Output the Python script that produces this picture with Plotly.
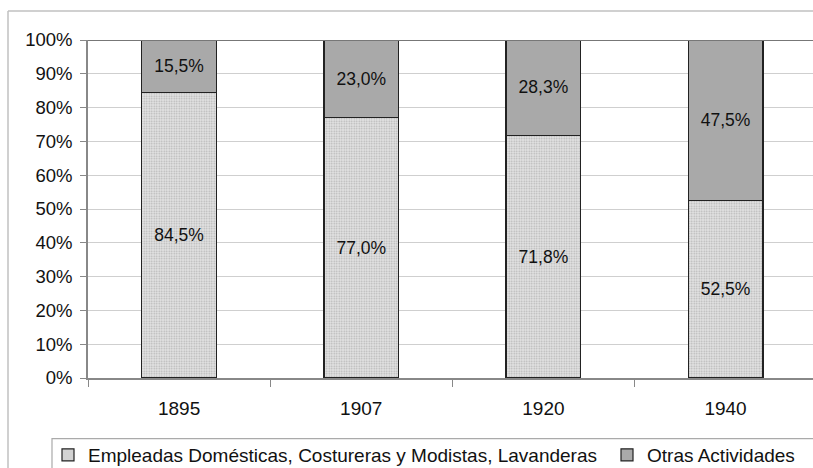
import plotly.graph_objects as go

years = ["1895", "1907", "1920", "1940"]
domesticas = [84.5, 77.0, 71.8, 52.5]
otras = [15.5, 23.0, 28.3, 47.5]
labels_dom = ["84,5%", "77,0%", "71,8%", "52,5%"]
labels_otras = ["15,5%", "23,0%", "28,3%", "47,5%"]
ytickvals = [0, 10, 20, 30, 40, 50, 60, 70, 80, 90, 100]
yticktext = [f"{v}%" for v in ytickvals]

FONT = "Liberation Sans, Arial, sans-serif"
PW, PH = 725, 338  # plot area size in px

fig = go.Figure()
fig.add_trace(go.Bar(
    x=years, y=domesticas, name="Empleadas Domésticas, Costureras y Modistas, Lavanderas",
    text=labels_dom, textposition="inside", insidetextanchor="middle",
    textfont=dict(size=17.5, color="#111111", family=FONT),
    marker=dict(color="#e4e4e4", line=dict(color="#222222", width=1.2),
                pattern=dict(shape=".", fgcolor="#808080", bgcolor="#e4e4e4", size=2.5, solidity=0.35)),
    legend="legend",
))
fig.add_trace(go.Bar(
    x=years, y=otras, name="Otras Actividades",
    text=labels_otras, textposition="inside", insidetextanchor="middle",
    textfont=dict(size=17.5, color="#111111", family=FONT),
    marker=dict(color="#a9a9a9", line=dict(color="#222222", width=1.2)),
    legend="legend2",
))

leg_common = dict(orientation="h", yanchor="middle", y=-77/PH, xanchor="left",
                  font=dict(size=19, family=FONT, color="#111111"),
                  itemwidth=30, bgcolor="rgba(0,0,0,0)")

fig.update_layout(
    width=813, height=468,
    barmode="stack", bargap=0.59,
    plot_bgcolor="white", paper_bgcolor="white",
    margin=dict(l=88, r=0, t=40, b=90, autoexpand=False),
    font=dict(family=FONT, size=18, color="#111111"),
    uniformtext=dict(mode="show", minsize=17.5),
    showlegend=True,
    legend=dict(x=-40/PW, **leg_common),
    legend2=dict(x=519/PW, **leg_common),
    xaxis=dict(range=[-0.5, 3.48], showline=True, linecolor="#888888", linewidth=1.5,
               ticks="outside", tickson="boundaries", ticklen=7, tickcolor="#888888",
               showgrid=False, tickfont=dict(size=19), ticklabelstandoff=12),
    yaxis=dict(range=[0, 100], tickvals=ytickvals, ticktext=yticktext,
               showline=True, linecolor="#888888", linewidth=1.5,
               ticks="outside", ticklen=6, tickcolor="#888888",
               showgrid=True, gridcolor="#cfcfcf", gridwidth=1, zeroline=False,
               tickfont=dict(size=18.5), ticklabelstandoff=4),
    shapes=[
        dict(type="line", xref="paper", yref="y", x0=0, x1=1, y0=100, y1=100,
             line=dict(color="#777777", width=2)),
        dict(type="line", xref="paper", yref="paper", x0=-80/PW, x1=1.02, y0=(PH+29)/PH, y1=(PH+29)/PH,
             line=dict(color="#c0c0c0", width=1.5)),
        dict(type="line", xref="paper", yref="paper", x0=-80/PW, x1=-80/PW, y0=(PH+29)/PH, y1=-0.3,
             line=dict(color="#c0c0c0", width=1.5)),
        dict(type="rect", xref="paper", yref="paper", x0=-36/PW, x1=1.02, y0=-60.7/PH, y1=-0.3,
             line=dict(color="#aaaaaa", width=1.2), fillcolor="rgba(0,0,0,0)", layer="below"),
    ],
)

fig.write_html("out.html", config={"displayModeBar": False},
               post_script="document.body.style.margin='0';document.body.style.overflow='hidden';")
